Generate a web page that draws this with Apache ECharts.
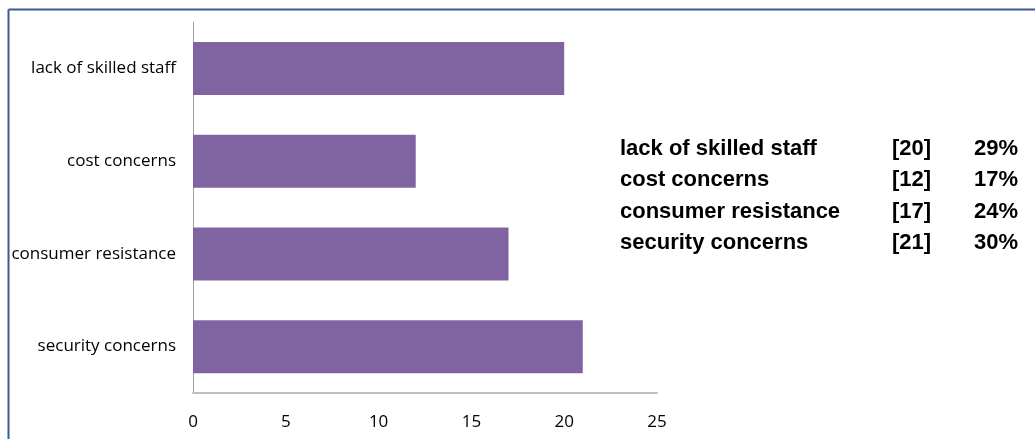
<!DOCTYPE html>
<html>
<head>
<meta charset="utf-8">
<script src="https://cdn.jsdelivr.net/npm/echarts@6/dist/echarts.min.js"></script>
<style>
  html, body { margin: 0; padding: 0; background: #ffffff; }
  #chart { width: 1035px; height: 439px; }
</style>
</head>
<body>
<div id="chart"></div>
<script>
// Barriers reported, with counts
const categories = ['lack of skilled staff', 'cost concerns', 'consumer resistance', 'security concerns'];
const counts = [20, 12, 17, 21];
const xTicks = [0, 5, 10, 15, 20, 25];

const total = counts.reduce((a, b) => a + b, 0);
const shares = counts.map(v => Math.round(v / total * 100));

const chart = echarts.init(document.getElementById('chart'));

// Summary table on the right: name, [count], share
const tableFont = 'bold 22px "Liberation Sans", Arial, sans-serif';
const rowY0 = 148.5, rowStep = 31.5;
const tableItems = [];
categories.forEach((name, i) => {
  const y = rowY0 + i * rowStep;
  tableItems.push(
    { type: 'text', style: { x: 620, y: y, text: name, font: tableFont, fill: '#000', textVerticalAlign: 'middle' } },
    { type: 'text', style: { x: 892, y: y, text: '[' + counts[i] + ']', font: tableFont, fill: '#000', textVerticalAlign: 'middle' } },
    { type: 'text', style: { x: 1018, y: y, text: shares[i] + '%', font: tableFont, fill: '#000', textAlign: 'right', textVerticalAlign: 'middle' } }
  );
});

const labelFont = '"Open Sans", sans-serif';

chart.setOption({
  animation: false,
  backgroundColor: '#ffffff',
  grid: { left: 193, right: 378, top: 22, bottom: 46, containLabel: false },
  xAxis: {
    type: 'value',
    min: 0,
    max: 25,
    interval: 5,
    splitLine: { show: false },
    axisLine: { show: true, lineStyle: { color: '#bfbfbf', width: 2 } },
    axisTick: { show: false },
    axisLabel: {
      margin: 21,
      fontSize: 17,
      color: '#000',
      fontFamily: labelFont,
      formatter: v => (xTicks.includes(v) ? String(v) : '')
    }
  },
  yAxis: {
    type: 'category',
    data: categories,
    inverse: true,
    axisLine: { show: true, lineStyle: { color: '#a0a0a0', width: 1 } },
    axisTick: { show: false },
    axisLabel: {
      margin: 17,
      fontSize: 17,
      color: '#000',
      fontFamily: labelFont
    }
  },
  series: [{
    type: 'bar',
    data: counts,
    barWidth: 53,
    itemStyle: { color: '#8064a2' }
  }],
  graphic: [
    // chart frame (top and left edges)
    { type: 'line', shape: { x1: 8.5, y1: 9.5, x2: 1035, y2: 9.5 }, style: { stroke: '#385d8a', lineWidth: 2 } },
    { type: 'line', shape: { x1: 8.5, y1: 9.5, x2: 8.5, y2: 439 }, style: { stroke: '#385d8a', lineWidth: 2 } }
  ].concat(tableItems)
});
</script>
</body>
</html>
